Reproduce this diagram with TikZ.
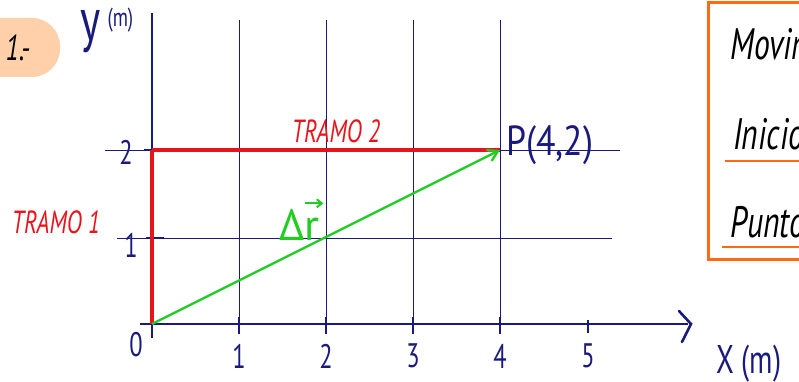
\documentclass[tikz,border=0pt]{standalone}
\usepackage{fontspec}
\setmainfont{PT Sans}
\usetikzlibrary{arrows.meta}
\definecolor{navy}{HTML}{1A1A7E}
\definecolor{tred}{HTML}{E8141B}
\definecolor{tgreen}{HTML}{22CC22}
\definecolor{torange}{HTML}{FF6A10}
\definecolor{peach}{HTML}{FFD0AA}
\newcommand{\narrow}[1]{\scalebox{0.72}[1]{#1}}
\tikzset{
  axis/.style={draw=navy, line width=2.6pt},
  gridln/.style={draw=navy, line width=0.9pt},
  tickmark/.style={draw=navy, line width=2.6pt},
  tramo/.style={draw=tred, line width=3.6pt},
  lbl/.style={text=navy, font=\fontsize{34}{36}\selectfont, inner sep=0pt},
  redlbl/.style={text=tred, font=\fontsize{32}{34}\selectfont\itshape, inner sep=0pt},
  boxtxt/.style={text=black, font=\fontsize{44}{46}\selectfont\itshape, inner sep=0pt, anchor=west},
}
\begin{document}
\begin{tikzpicture}[x=1pt, y=-1pt]
\useasboundingbox (0,0) rectangle (799,382);
\clip (0,0) rectangle (799,382);
% badge
\fill[peach, rounded corners=28pt] (-30,18) rectangle (60,77);
\node[text=black, font=\fontsize{36}{38}\selectfont\itshape, inner sep=0pt] (badge) at (18,48) {\narrow{1.-}};
% right box
\draw[torange, line width=3pt] (708,3) rectangle (840,259);
\node[boxtxt] (mov) at (730,44) {\narrow{Movimiento}};
\node[boxtxt] (ini) at (733,134) {\narrow{Inicio}};
\node[boxtxt] (pun) at (730,222) {\narrow{Punto ...}};
\draw[torange, line width=2.6pt] (725,161) -- (810,161);
\draw[torange, line width=2.6pt] (722,247) -- (810,247);
% coordinates
\coordinate (O) at (152,324);
\coordinate (P) at (500,150);
\coordinate (Y2) at (152,150);
% grid lines
\foreach \x in {239,326,413,500} \draw[gridln] (\x,20) -- (\x,334);
\draw[gridln] (105,150) -- (620,150);
\draw[gridln] (117,238) -- (612,238);
% axes
\draw[axis] (140,324) -- (688,324);
\draw[navy, line width=2.6pt, line cap=round] (679,311) -- (691,324) -- (682,342);
\draw[axis] (152,338) -- (152,13);
% ticks
\foreach \x in {239,326,413,500} \draw[tickmark] (\x,317) -- (\x,334);
\draw[tickmark] (588,320) -- (588,333);
\draw[tickmark] (144,150) -- (164,150);
\draw[tickmark] (146,238) -- (164,238);
% tick labels
\node[lbl] (x1) at (239,356) {\narrow{1}};
\node[lbl] (x2) at (326,356) {\narrow{2}};
\node[lbl] (x3) at (413,356) {\narrow{3}};
\node[lbl] (x4) at (500,356) {\narrow{4}};
\node[lbl] (x5) at (588,356) {\narrow{5}};
\node[lbl] (y2) at (126,152) {\narrow{2}};
\node[lbl] (y1) at (131,245) {\narrow{1}};
\node[lbl] (y0) at (136,345) {\narrow{0}};
\node[lbl, anchor=west, font=\fontsize{40}{42}\selectfont] (xl) at (716,364) {\narrow{X (m)}};
\node[lbl, anchor=west, font=\fontsize{60}{62}\selectfont] (yl) at (80,30) {\narrow{y\,{\fontsize{26}{28}\selectfont\raisebox{14pt}{(m)}}}};
% tramos
\draw[tramo] (O) -- (Y2);
\draw[tramo] (Y2) -- (P);
\node[redlbl] (t1) at (56,222) {\narrow{TRAMO 1}};
\node[redlbl] (t2) at (336,131) {\narrow{TRAMO 2}};
% displacement
\draw[tgreen, line width=2.4pt, -{Straight Barb[length=10pt,width=12pt]}] (O) -- (P);
\node[text=tgreen, font=\fontsize{44}{46}\selectfont, inner sep=0pt, anchor=south west] (dr) at (279,241) {Δr};
\draw[tgreen, line width=2pt, -{Straight Barb[length=5pt,width=8pt]}] ([shift={(-14,-6)}]dr.north east) -- ([shift={(4,-6)}]dr.north east);
\node[lbl, anchor=west, font=\fontsize{42}{44}\selectfont] (pl) at (506,145) {\scalebox{0.85}[1]{P(4,2)}};
\end{tikzpicture}
\end{document}
